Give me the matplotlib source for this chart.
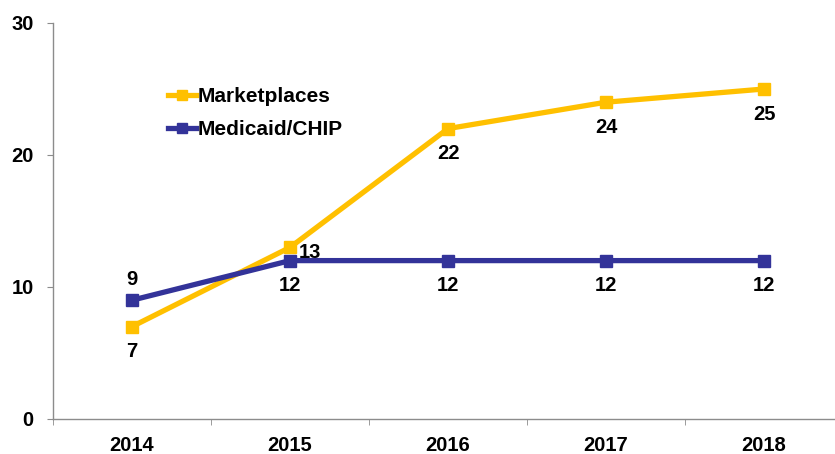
import matplotlib.pyplot as plt

plt.rcParams['font.family'] = ['Liberation Sans', 'DejaVu Sans']

years = ['2014', '2015', '2016', '2017', '2018']
marketplaces = [7, 13, 22, 24, 25]
medicaid = [9, 12, 12, 12, 12]

# label offsets in points (dx, dy) for each data label
mkt_offsets = [(0, -18), (14, -4), (0, -18), (0, -18), (0, -18)]
med_offsets = [(0, 15), (0, -18), (0, -18), (0, -18), (0, -18)]

YELLOW = '#FFC000'
BLUE = '#333399'
GREY = '#8c8c8c'

fig = plt.figure(figsize=(8.35, 4.54), dpi=100)
ax = fig.add_axes([53/835, 35/454, 790/835, 396/454])

x = list(range(len(years)))
ax.plot(x, marketplaces, color=YELLOW, lw=3.8, marker='s', ms=8.5,
        label='Marketplaces', zorder=3)
ax.plot(x, medicaid, color=BLUE, lw=3.8, marker='s', ms=8.5,
        label='Medicaid/CHIP', zorder=4)

for xi, v, off in zip(x, marketplaces, mkt_offsets):
    ax.annotate(str(v), (xi, v), xytext=off, textcoords='offset points',
                ha='center', va='center', fontsize=14.5, fontweight='bold')
for xi, v, off in zip(x, medicaid, med_offsets):
    ax.annotate(str(v), (xi, v), xytext=off, textcoords='offset points',
                ha='center', va='center', fontsize=14.5, fontweight='bold')

ax.set_xlim(-0.5, len(years) - 0.5)
ax.set_ylim(0, 30)
ax.set_yticks([0, 10, 20, 30])
ax.set_xticks(x)
ax.set_xticklabels(years)
ax.set_xticks([i - 0.5 for i in range(len(years) + 1)], minor=True)
ax.tick_params(axis='x', which='major', length=0, pad=12.5)
ax.tick_params(axis='x', which='minor', length=4, color=GREY, direction='out')
ax.tick_params(axis='y', length=4, color=GREY, direction='out', pad=10)
for lab in ax.get_xticklabels() + ax.get_yticklabels():
    lab.set_fontsize(14.5)
    lab.set_fontweight('bold')

for s in ['top', 'right']:
    ax.spines[s].set_visible(False)
for s in ['left', 'bottom']:
    ax.spines[s].set_color(GREY)
    ax.spines[s].set_linewidth(1)

leg = ax.legend(loc='upper left', bbox_to_anchor=(0.122, 0.885), frameon=False,
                handlelength=1.35, handletextpad=0.08, labelspacing=0.65,
                prop={'size': 15, 'weight': 'bold'}, markerscale=0.85)

fig.savefig('out.png', dpi=100)
